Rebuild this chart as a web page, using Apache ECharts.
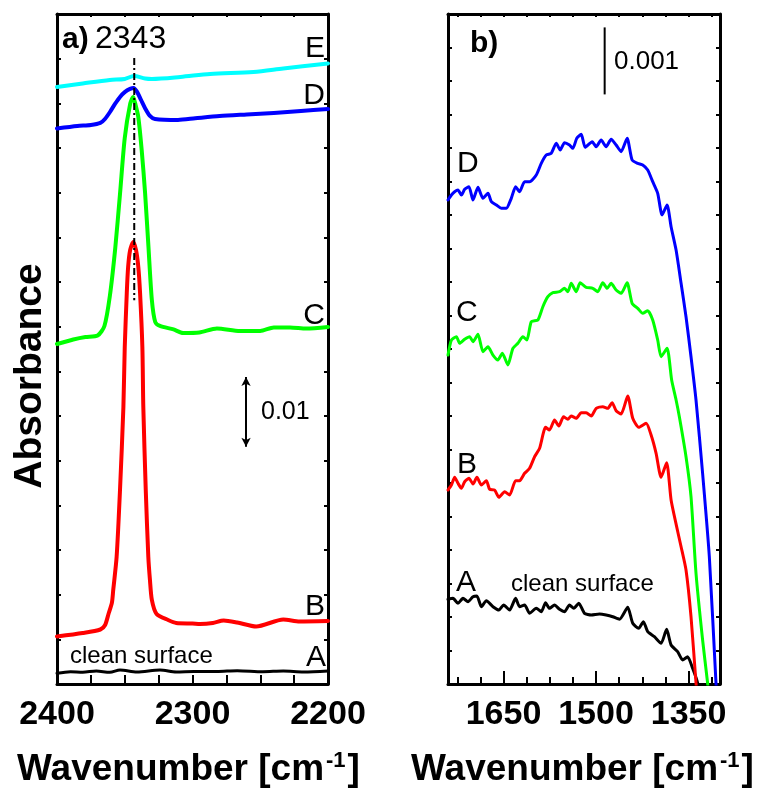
<!DOCTYPE html>
<html>
<head>
<meta charset="utf-8">
<title>IR spectra</title>
<script src="https://cdn.jsdelivr.net/npm/echarts@6/dist/echarts.min.js"></script>
<style>
  html, body { margin: 0; padding: 0; background: #fff; }
  #chart { width: 760px; height: 789px; }
</style>
</head>
<body>
<div id="chart"></div>
<script>
// ---- Panel a): CO2 stretching region, [wavenumber cm-1, absorbance] ----
const a_A = [[2400,0.00153],[2390,0.00176],[2381,0.00169],[2371,0.00186],[2361,0.00168],[2353.5,0.00201],[2341,0.00172],[2324,0.00201],[2312,0.00172],[2299,0.00179],[2282,0.00179],[2267,0.00191],[2248,0.00176],[2233,0.00186],[2218,0.00172],[2200,0.00186]];
const a_B = [[2400,0.00681],[2381,0.00731],[2368,0.00781],[2364.5,0.00846],[2362,0.01003],[2359.5,0.01161],[2358.5,0.01347],[2356,0.0182],[2353.5,0.0278],[2351,0.03969],[2350,0.04829],[2348.5,0.05603],[2347.5,0.05976],[2346,0.06219],[2343.7,0.06334],[2341.7,0.06219],[2340,0.05976],[2338.7,0.05603],[2337,0.04829],[2336.3,0.03969],[2334.5,0.0278],[2332.6,0.0182],[2331.4,0.0149],[2330,0.01204],[2326.5,0.01003],[2318,0.00917],[2312,0.00874],[2300,0.00867],[2294.5,0.0086],[2285,0.00874],[2277,0.0091],[2267,0.00881],[2253,0.00824],[2233,0.00924],[2221,0.00896],[2200,0.00903]];
const a_C = [[2400,0.04872],[2388,0.04937],[2379,0.04973],[2370,0.04994],[2365,0.0513],[2361,0.0556],[2357,0.06248],[2353.5,0.07022],[2350,0.07824],[2346,0.08311],[2343.8,0.08412],[2342,0.08297],[2340,0.08125],[2337.5,0.07652],[2335,0.07036],[2332.5,0.06262],[2330,0.05503],[2327.5,0.05187],[2324,0.0513],[2314,0.0508],[2307,0.0503],[2295,0.05037],[2282,0.05094],[2265,0.05058],[2250,0.05058],[2240,0.05109],[2228,0.05109],[2216,0.05094],[2200,0.05116]];
const a_D = [[2400,0.0796],[2385,0.07996],[2375,0.0801],[2368,0.08039],[2364.6,0.08096],[2360.9,0.08196],[2357.2,0.08311],[2353.5,0.08412],[2349.8,0.08484],[2346.1,0.08527],[2343.5,0.08541],[2340.9,0.08484],[2338,0.08369],[2335.1,0.08254],[2331.4,0.08139],[2327.7,0.08096],[2310.7,0.08082],[2298,0.08106],[2280,0.08139],[2260,0.08161],[2240,0.08182],[2220,0.08211],[2200,0.0824]];
const a_E = [[2400,0.08555],[2381,0.08605],[2361,0.08655],[2350,0.0867],[2343.2,0.08712],[2335,0.08677],[2330,0.0867],[2309,0.08698],[2287,0.08741],[2255,0.0877],[2233,0.0882],[2200,0.08892]];

// ---- Panel b): carbonate / carboxylate region ----
const b_A = [[1740,0.001264],[1731.9,0.001279],[1723.8,0.001204],[1715.7,0.001279],[1707.6,0.001228],[1699.5,0.001303],[1693.1,0.001313],[1685.9,0.001154],[1677.8,0.001243],[1667.1,0.001154],[1657.4,0.001104],[1649.8,0.001179],[1640.1,0.001104],[1630.4,0.001279],[1623.9,0.001154],[1615.8,0.001179],[1607.7,0.001055],[1596.9,0.00113],[1588.8,0.001079],[1581.8,0.001213],[1575.4,0.00113],[1567.3,0.001179],[1559.2,0.001115],[1551.1,0.001079],[1543,0.001179],[1536,0.00113],[1527.9,0.001204],[1518.7,0.001055],[1507.8,0.00103],[1494.4,0.001045],[1483.6,0.00103],[1472.9,0.001004],[1462,0.000966],[1448.6,0.001145],[1440.5,0.000906],[1430.8,0.000831],[1423.2,0.00093],[1416.2,0.000781],[1405.4,0.000706],[1394.5,0.000607],[1385.5,0.000816],[1378.3,0.000582],[1367.7,0.000482],[1359.6,0.000358],[1351.5,0.000407],[1343.4,0.000234],[1335.3,0.000015],[1330,-0.0003]];
const b_B = [[1740,0.002895],[1734.5,0.00297],[1729.2,0.003085],[1723.8,0.002995],[1718.3,0.002921],[1713,0.003019],[1706,0.00307],[1699.5,0.002985],[1693.1,0.003085],[1685.9,0.00297],[1677.8,0.003034],[1672.5,0.002906],[1664.4,0.002895],[1657.4,0.002787],[1648.2,0.00287],[1640.1,0.002821],[1630.4,0.003034],[1623.9,0.003034],[1615.8,0.003145],[1607.7,0.003219],[1599.6,0.003392],[1591.5,0.003518],[1581.8,0.003831],[1575.4,0.003791],[1567.3,0.00394],[1560.3,0.003851],[1552.7,0.003989],[1545.7,0.003951],[1540.2,0.004],[1532.1,0.003966],[1524,0.004049],[1515.9,0.004049],[1507.8,0.004],[1499.8,0.004115],[1489.1,0.004139],[1481,0.004115],[1473.9,0.004198],[1467.4,0.004079],[1459.3,0.00403],[1448.6,0.004298],[1440.5,0.003966],[1430.8,0.003831],[1418.8,0.003891],[1410.7,0.003716],[1402.6,0.003443],[1394.5,0.003085],[1385.5,0.003303],[1378.3,0.002746],[1369.3,0.002348],[1362.1,0.002049],[1354.1,0.001701],[1346,0.001004],[1337.9,0.000015],[1330,-0.0009]];
const b_C = [[1740,0.00491],[1734.5,0.005134],[1726.4,0.005184],[1721.1,0.005085],[1713,0.005145],[1704.9,0.005184],[1699.5,0.005109],[1691.4,0.005219],[1683.3,0.00496],[1675.2,0.005034],[1667.1,0.00491],[1659.1,0.004836],[1651.9,0.004936],[1642.9,0.004761],[1634.8,0.00501],[1626.7,0.005085],[1618.6,0.005184],[1612.1,0.005134],[1605,0.005407],[1594.3,0.005433],[1586.2,0.005631],[1578.1,0.00578],[1570,0.00584],[1559.2,0.005855],[1551.1,0.005906],[1545.7,0.005855],[1540.2,0.00598],[1532.1,0.005855],[1525.7,0.005989],[1515.9,0.005921],[1505.3,0.005906],[1497.2,0.005855],[1489.1,0.005989],[1481.9,0.005906],[1475.5,0.00598],[1467.4,0.00588],[1459.3,0.005831],[1449.6,0.005989],[1441.5,0.005682],[1432.4,0.005607],[1424.3,0.005533],[1416.2,0.005572],[1408.1,0.005433],[1400,0.005134],[1394.5,0.004885],[1384.8,0.00501],[1377.4,0.004537],[1370.2,0.004239],[1364.9,0.003989],[1354.1,0.003392],[1346,0.002795],[1337.9,0.001652],[1327.2,0.000657],[1319.1,0.000015],[1312,-0.0006]];
const b_D = [[1740,0.007224],[1734.5,0.007298],[1729.2,0.007348],[1723.8,0.007373],[1718.3,0.007298],[1713,0.007383],[1706,0.007422],[1699.5,0.007224],[1691.4,0.007413],[1683.3,0.007249],[1675.2,0.007324],[1669.7,0.007198],[1661.6,0.007149],[1653.6,0.0071],[1645.5,0.0071],[1637.4,0.007249],[1630.4,0.007422],[1623.9,0.007348],[1615.8,0.007497],[1607.7,0.007497],[1596.9,0.007597],[1588.8,0.007771],[1580.7,0.007895],[1572.6,0.007921],[1564.5,0.00807],[1558,0.00797],[1551.1,0.008079],[1543,0.008045],[1537.6,0.007995],[1531.2,0.008145],[1524,0.008204],[1517.6,0.00801],[1506.2,0.008094],[1499.8,0.008019],[1491.7,0.008119],[1483.6,0.008019],[1475.5,0.00813],[1467.4,0.008045],[1459.3,0.007945],[1449.6,0.008145],[1441.5,0.007821],[1432.4,0.007771],[1424.3,0.007746],[1416.2,0.007671],[1408.1,0.007497],[1400,0.007324],[1392.9,0.007],[1384.8,0.007149],[1378.3,0.006825],[1370.2,0.006477],[1362.1,0.00598],[1354.1,0.005482],[1346,0.004885],[1337.9,0.004239],[1327.2,0.003145],[1316.3,0.0019],[1305.5,0.000015],[1299,-0.0011]];

// ---- Axis ticks and reference marks ----
const aTickLabels = [2200, 2300, 2400];
const bMajorTicks = [1350, 1500, 1650];
const bMinorTicks = [1312.5, 1387.5, 1425, 1462.5, 1537.5, 1575, 1612.5, 1687.5, 1725];
const peakPosition = 2343;
const peakMarker = [0.0550, 0.0897];
const scaleBarA = { wn: 2260.5, from: 0.034, length: 0.01 };
const scaleBarB = { wn: 1486, from: 0.0088, length: 0.001 };

const FONT = "'Liberation Sans', Arial, Helvetica, sans-serif";
const BLACK = '#000';

function frameAxis(extra) {
  return Object.assign({
    type: 'value',
    axisLine: { show: true, onZero: false, lineStyle: { color: BLACK, width: 3 } },
    splitLine: { show: false },
    axisLabel: { show: false },
    axisTick: { show: true, inside: true, length: 4, lineStyle: { color: BLACK, width: 2 } }
  }, extra);
}

function curve(data, color, width, xi, yi, smooth) {
  return {
    type: 'line', data: data, xAxisIndex: xi, yAxisIndex: yi,
    showSymbol: false, symbol: 'none', smooth: smooth, clip: true, silent: true,
    lineStyle: { color: color, width: width, cap: 'round', join: 'round' }
  };
}

const tickLabelStyle = {
  show: true, color: BLACK, fontFamily: FONT, fontWeight: 'bold', fontSize: 34, margin: 14,
  formatter: function (v) { return String(v); }
};

function titleText(x) {
  return {
    type: 'text', x: x, y: 750,
    style: {
      text: '{m|Wavenumber [cm}{s|-1}{m|]}', fill: BLACK, align: 'left', verticalAlign: 'top',
      rich: {
        m: { font: 'bold 37px ' + FONT, fill: BLACK, lineHeight: 40 },
        s: { font: 'bold 22px ' + FONT, fill: BLACK, verticalAlign: 'top', lineHeight: 40, padding: [0, 2, 0, 2] }
      }
    }
  };
}

function label(x, y, text, size, align, bold) {
  return {
    type: 'text', x: x, y: y,
    style: { text: text, font: (bold ? 'bold ' : '') + size + 'px ' + FONT, fill: BLACK, align: align, verticalAlign: 'middle' }
  };
}

const option = {
  animation: false,
  backgroundColor: '#fff',
  grid: [
    { left: 57, top: 14, width: 271, height: 670 },
    { left: 448, top: 14, width: 272, height: 670 }
  ],
  xAxis: [
    frameAxis({
      gridIndex: 0, position: 'bottom', min: 2200, max: 2400, interval: 25, inverse: true,
      axisTick: { show: true, inside: true, length: 9, lineStyle: { color: BLACK, width: 2 } },
      axisLabel: Object.assign({}, tickLabelStyle, {
        formatter: function (v) { return aTickLabels.indexOf(v) >= 0 ? String(v) : ''; }
      })
    }),
    frameAxis({
      gridIndex: 0, position: 'top', min: 2200, max: 2400, interval: 25, inverse: true,
      axisTick: { show: true, inside: true, length: 3, lineStyle: { color: BLACK, width: 2 } }
    }),
    frameAxis({
      gridIndex: 1, position: 'bottom', min: 1299, max: 1740, inverse: true,
      axisTick: { show: true, inside: true, length: 13, customValues: bMajorTicks, lineStyle: { color: BLACK, width: 2 } },
      axisLabel: Object.assign({}, tickLabelStyle, { customValues: bMajorTicks })
    }),
    frameAxis({
      gridIndex: 1, position: 'bottom', min: 1299, max: 1740, inverse: true,
      axisLine: { show: false },
      axisTick: { show: true, inside: true, length: 7, customValues: bMinorTicks, lineStyle: { color: BLACK, width: 2 } }
    }),
    frameAxis({
      gridIndex: 1, position: 'top', min: 1299, max: 1740, inverse: true,
      axisTick: { show: true, inside: true, length: 3, customValues: bMajorTicks.concat(bMinorTicks), lineStyle: { color: BLACK, width: 2 } }
    })
  ],
  yAxis: [
    frameAxis({ gridIndex: 0, position: 'left', min: 0, max: 0.096, interval: 0.0064 }),
    frameAxis({ gridIndex: 0, position: 'right', min: 0, max: 0.096, interval: 0.0064 }),
    frameAxis({ gridIndex: 1, position: 'left', min: 0, max: 0.01, interval: 0.0005 }),
    frameAxis({ gridIndex: 1, position: 'right', min: 0, max: 0.01, interval: 0.0005 })
  ],
  series: [
    curve(a_A, '#000000', 3, 0, 0, 0.3),
    curve(a_B, '#ff0000', 4, 0, 0, 0.25),
    curve(a_C, '#00ff00', 4, 0, 0, 0.25),
    curve(a_D, '#0000ff', 4, 0, 0, 0.25),
    curve(a_E, '#00ffff', 4, 0, 0, 0.3),
    {
      type: 'line', xAxisIndex: 0, yAxisIndex: 0, showSymbol: false, symbol: 'none', silent: true,
      data: [[peakPosition, peakMarker[1]], [peakPosition, peakMarker[0]]],
      lineStyle: { color: BLACK, width: 2, type: [7, 3, 2, 3] }
    },
    {
      type: 'line', xAxisIndex: 0, yAxisIndex: 0, data: [], silent: true,
      markLine: {
        silent: true, symbol: ['arrow', 'arrow'], symbolSize: [7, 9],
        label: { show: false },
        lineStyle: { color: BLACK, width: 2, type: 'solid' },
        data: [[
          { coord: [scaleBarA.wn, scaleBarA.from] },
          { coord: [scaleBarA.wn, scaleBarA.from + scaleBarA.length] }
        ]]
      }
    },
    curve(b_A, '#000000', 3, 2, 2, 0.2),
    curve(b_B, '#ff0000', 3, 2, 2, 0.2),
    curve(b_C, '#00ff00', 3, 2, 2, 0.2),
    curve(b_D, '#0000ff', 3, 2, 2, 0.2),
    {
      type: 'line', xAxisIndex: 2, yAxisIndex: 2, showSymbol: false, symbol: 'none', silent: true,
      data: [[scaleBarB.wn, scaleBarB.from], [scaleBarB.wn, scaleBarB.from + scaleBarB.length]],
      lineStyle: { color: BLACK, width: 2 }
    }
  ],
  graphic: [
    // panel tags and peak label
    label(62, 40, 'a)', 30, 'left', true),
    label(95, 39, '2343', 32, 'left', false),
    label(470, 44, 'b)', 30, 'left', true),
    // curve labels, panel a)
    label(325, 48.5, 'E', 30, 'right', false),
    label(325, 96, 'D', 30, 'right', false),
    label(325, 316, 'C', 30, 'right', false),
    label(325, 607, 'B', 30, 'right', false),
    label(326, 657.5, 'A', 30, 'right', false),
    label(70, 656, 'clean surface', 24, 'left', false),
    label(261, 412.5, '0.01', 25, 'left', false),
    // curve labels, panel b)
    label(457, 163.5, 'D', 30, 'left', false),
    label(456, 313, 'C', 30, 'left', false),
    label(457, 465, 'B', 30, 'left', false),
    label(456, 583, 'A', 30, 'left', false),
    label(511, 584, 'clean surface', 24, 'left', false),
    label(614, 62, '0.001', 26, 'left', false),
    // axis titles
    { type: 'text', x: 30, y: 376, rotation: Math.PI / 2,
      style: { text: 'Absorbance', font: 'bold 39px ' + FONT, fill: BLACK, align: 'center', verticalAlign: 'middle' } },
    titleText(17),
    titleText(411)
  ]
};

const chart = echarts.init(document.getElementById('chart'), null, { renderer: 'canvas' });
chart.setOption(option);
</script>
</body>
</html>
